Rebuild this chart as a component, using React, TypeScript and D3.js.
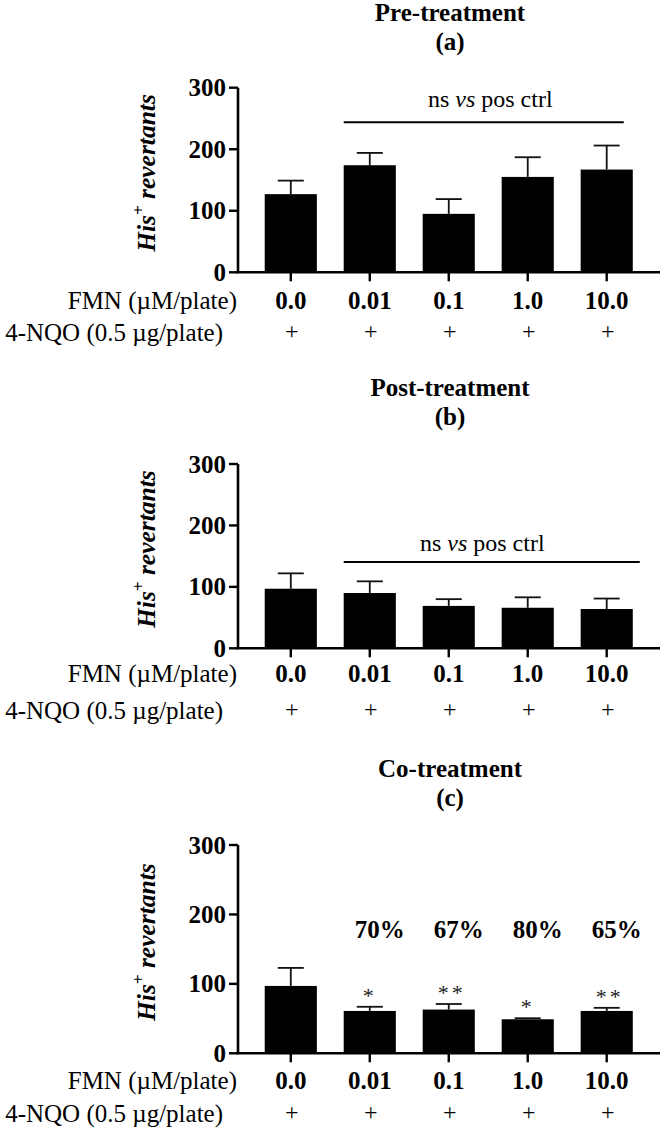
import React from "react";
import * as d3 from "d3";

const categories = ["0.0", "0.01", "0.1", "1.0", "10.0"];
const yTicks = [0, 100, 200, 300];

const preMeans = [127, 174, 95, 155, 167];
const preSem = [22, 20, 24, 32, 39];

const postMeans = [97, 90, 69, 66, 64];
const postSem = [25, 19, 11, 17, 17];

const coMeans = [97, 61, 63, 49, 61];
const coSem = [26, 6, 8, 1.5, 4.5];
const coPercents = ["", "70%", "67%", "80%", "65%"];
const coStars = ["", "*", "**", "*", "**"];

const rowLabel1 = "FMN (\u00b5M/plate)";
const rowLabel2 = "4-NQO (0.5 \u00b5g/plate)";
const rowMarks = ["+", "+", "+", "+", "+"];

const FONT = "Liberation Serif, DejaVu Serif, serif";

type PanelProps = {
  title: string;
  letter: string;
  means: number[];
  sem: number[];
  yTop: number;
  yBottom: number;
  t1: number;
  t2: number;
  row1: number;
  row2: number;
  ns?: { value: number; gap: number; endPad: number; textDx: number };
  percents?: string[];
  percentValue?: number;
  stars?: string[];
};

const xAxisLeft = 238;
const xAxisRight = 660;

function Panel(p: PanelProps) {
  const x = d3
    .scaleBand<string>()
    .domain(categories)
    .range([251.3, 646.2])
    .paddingInner(0.34)
    .paddingOuter(0.17);
  const y = d3.scaleLinear().domain([0, 300]).range([p.yBottom, p.yTop]);
  const bw = x.bandwidth();
  const cx = (c: string) => (x(c) as number) + bw / 2;
  const capHalf = 13;
  const yMid = (p.yTop + p.yBottom) / 2 - 7;

  return (
    <g style={{ fontFamily: FONT }}>
      <text x={450} y={p.t1} textAnchor="middle" fontWeight="bold" fontSize={25}>
        {p.title}
      </text>
      <text x={450} y={p.t2} textAnchor="middle" fontWeight="bold" fontSize={25}>
        {p.letter}
      </text>

      {categories.map((c, i) => (
        <rect key={"b" + c} x={x(c)} y={y(p.means[i])} width={bw} height={y(0) - y(p.means[i])} fill="#000" />
      ))}
      {categories.map((c, i) => {
        const top = y(p.means[i] + p.sem[i]);
        return (
          <g key={"e" + c} stroke="#111" strokeWidth={1.8}>
            <line x1={cx(c)} x2={cx(c)} y1={y(p.means[i])} y2={top} />
            <line x1={cx(c) - capHalf} x2={cx(c) + capHalf} y1={top} y2={top} />
          </g>
        );
      })}

      <line x1={xAxisLeft} x2={xAxisLeft} y1={y(300)} y2={y(0)} stroke="#000" strokeWidth={2.6} />
      {yTicks.map((t) => (
        <g key={"yt" + t}>
          <line x1={xAxisLeft - 9} x2={xAxisLeft} y1={y(t)} y2={y(t)} stroke="#000" strokeWidth={2.4} />
          <text x={226} y={y(t) + 8.5} textAnchor="end" fontWeight="bold" fontSize={25}>
            {t}
          </text>
        </g>
      ))}
      <line x1={xAxisLeft - 1.3} x2={xAxisRight} y1={y(0)} y2={y(0)} stroke="#000" strokeWidth={2.6} />
      {categories.map((c) => (
        <line key={"xt" + c} x1={cx(c)} x2={cx(c)} y1={y(0)} y2={y(0) + 9} stroke="#000" strokeWidth={2.4} />
      ))}

      <text
        transform={`translate(155, ${yMid}) rotate(-90)`}
        textAnchor="middle"
        fontWeight="bold"
        fontStyle="italic"
        fontSize={25.5}
      >
        His
        <tspan dy={-11} fontSize={17}>
          +
        </tspan>
        <tspan dy={11}> revertants</tspan>
      </text>

      <text x={237} y={p.row1 + 8.5} textAnchor="end" fontSize={25}>
        {rowLabel1}
      </text>
      <text x={223} y={p.row2 + 8.5} textAnchor="end" fontSize={25}>
        {rowLabel2}
      </text>
      {categories.map((c) => (
        <text key={"cl" + c} x={cx(c)} y={p.row1 + 8.5} textAnchor="middle" fontWeight="bold" fontSize={25}>
          {c}
        </text>
      ))}
      {categories.map((c, i) => (
        <text key={"pl" + c} x={cx(c) + 1} y={p.row2 + 7} textAnchor="middle" fontSize={24}>
          {rowMarks[i]}
        </text>
      ))}

      {p.ns && (
        <g>
          <line
            x1={x(categories[1]) as number}
            x2={(x(categories[4]) as number) + bw + p.ns.endPad}
            y1={y(p.ns.value)}
            y2={y(p.ns.value)}
            stroke="#000"
            strokeWidth={2}
          />
          <text
            x={((x(categories[1]) as number) + (x(categories[4]) as number) + bw) / 2 + p.ns.textDx}
            y={y(p.ns.value) - p.ns.gap}
            textAnchor="middle"
            fontSize={24}
          >
            ns <tspan fontStyle="italic">vs</tspan> pos ctrl
          </text>
        </g>
      )}

      {p.percents &&
        categories.map((c, i) =>
          p.percents![i] ? (
            <text
              key={"pc" + c}
              x={cx(c) + 10}
              y={y(p.percentValue as number)}
              textAnchor="middle"
              fontWeight="bold"
              fontSize={25}
            >
              {p.percents![i]}
            </text>
          ) : null
        )}
      {p.stars &&
        categories.map((c, i) =>
          p.stars![i] ? (
            <text
              key={"st" + c}
              x={cx(c) + (p.stars![i].length > 1 ? 3 : 0)}
              y={y(p.means[i] + p.sem[i]) - 4}
              textAnchor="middle"
              fontSize={22}
              letterSpacing={3}
              fill="#222"
            >
              {p.stars![i]}
            </text>
          ) : null
        )}
    </g>
  );
}

export default function App() {
  return (
    <svg width={665} height={1129} style={{ position: "absolute", left: 0, top: 0, background: "#fff" }}>
      <rect width={665} height={1129} fill="#fff" />
      <Panel
        title="Pre-treatment"
        letter="(a)"
        means={preMeans}
        sem={preSem}
        yTop={87.7}
        yBottom={272.3}
        t1={20.7}
        t2={50}
        row1={300}
        row2={332}
        ns={{ value: 244, gap: 15.5, endPad: -9, textDx: 2 }}
      />
      <Panel
        title="Post-treatment"
        letter="(b)"
        means={postMeans}
        sem={postSem}
        yTop={464}
        yBottom={648.3}
        t1={396}
        t2={425}
        row1={673.3}
        row2={710}
        ns={{ value: 140.5, gap: 10.5, endPad: 7, textDx: -6 }}
      />
      <Panel
        title="Co-treatment"
        letter="(c)"
        means={coMeans}
        sem={coSem}
        yTop={845}
        yBottom={1053.3}
        t1={777}
        t2={806}
        row1={1080}
        row2={1113.3}
        percents={coPercents}
        percentValue={166}
        stars={coStars}
      />
    </svg>
  );
}
